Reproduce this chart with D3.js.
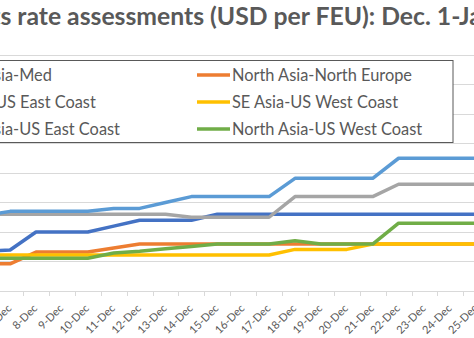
<!DOCTYPE html>
<html><head><meta charset="utf-8">
<script src="https://cdn.jsdelivr.net/npm/d3@7"></script>
<style>html,body{margin:0;padding:0;background:#fff;overflow:hidden}</style>
</head><body>
<svg id="c" width="474" height="338" xmlns="http://www.w3.org/2000/svg"></svg>
<script>
// ---- data ----
const dates = ["6-Dec","7-Dec","8-Dec","9-Dec","10-Dec","11-Dec","12-Dec","13-Dec","14-Dec","15-Dec",
               "16-Dec","17-Dec","18-Dec","19-Dec","20-Dec","21-Dec","22-Dec","23-Dec","24-Dec","25-Dec"];
const yTicks = [0,1000,2000,3000,4000,5000,6000,7000,8000];
const titleText = "Platts rate assessments (USD per FEU): Dec. 1-Jan. 5";
const titleVisibleFrom = "s rate assessments";

const seriesNames = ["North Asia-Med","North Asia-North Europe","SE Asia-US East Coast",
                     "SE Asia-US West Coast","North Asia-US East Coast","North Asia-US West Coast"];
const northAsiaMed         = [1340,1390,2000,2000,2000,2200,2400,2400,2400,2600,2600,2600,2600,2600,2600,2600,2600,2600,2600,2600];
const northAsiaNorthEurope = [920,920,1320,1320,1320,1460,1590,1590,1590,1590,1590,1590,1590,1590,1590,1590,1590,1590,1590,1590];
const seAsiaUSEastCoast    = [2600,2600,2600,2600,2600,2600,2600,2600,2500,2500,2500,2500,3200,3200,3200,3200,3620,3620,3620,3620];
const seAsiaUSWestCoast    = [1220,1220,1220,1220,1220,1220,1220,1220,1220,1220,1220,1220,1410,1410,1410,1590,1590,1590,1590,1590];
const northAsiaUSEastCoast = [2550,2700,2700,2700,2700,2800,2800,3000,3200,3200,3200,3200,3820,3820,3820,3820,4500,4500,4500,4500];
const northAsiaUSWestCoast = [1110,1110,1110,1110,1110,1290,1350,1430,1510,1590,1590,1590,1700,1590,1590,1590,2300,2300,2300,2300];
const seriesColors = ["#4472C4","#ED7D31","#A5A5A5","#FFC000","#5B9BD5","#70AD47"];

const series = seriesNames.map((name,i)=>({
  name, color: seriesColors[i],
  values: [northAsiaMed,northAsiaNorthEurope,seAsiaUSEastCoast,seAsiaUSWestCoast,northAsiaUSEastCoast,northAsiaUSWestCoast][i]
}));

// ---- layout ----
const svg = d3.select("#c");
const FONT = "Lato, 'Liberation Sans', Arial, sans-serif";
const textCol = "#595959";
const plotTop = 55, plotBottom = 291;
const x = d3.scaleBand(dates, [-28.75, 489.25]).paddingInner(0).paddingOuter(0);
const bw = x.bandwidth();
const y = d3.scaleLinear([0, 8000], [plotBottom, plotTop]);

// gridlines
svg.append("g").selectAll("line").data(yTicks.filter(t=>t>0)).join("line")
  .attr("x1",0).attr("x2",474).attr("y1",d=>y(d)).attr("y2",d=>y(d))
  .attr("stroke","#D9D9D9").attr("stroke-width",1).attr("shape-rendering","crispEdges");

// axis line + ticks between categories
svg.append("line").attr("x1",0).attr("x2",474).attr("y1",y(0)).attr("y2",y(0))
  .attr("stroke","#D9D9D9").attr("stroke-width",1).attr("shape-rendering","crispEdges");
svg.append("g").selectAll("line").data(dates).join("line")
  .attr("x1",d=>Math.round(x(d))+0.5).attr("x2",d=>Math.round(x(d))+0.5)
  .attr("y1",y(0)).attr("y2",y(0)+5)
  .attr("stroke","#D9D9D9").attr("stroke-width",1);

// x labels
svg.append("g").selectAll("text").data(dates).join("text")
  .attr("transform",d=>`translate(${x(d)+bw/2+2},${y(0)+18}) rotate(-45)`)
  .attr("text-anchor","end")
  .attr("font-family",FONT).attr("font-size",11).attr("fill",textCol)
  .text(d=>d);

// lines
const line = d3.line().x((v,i)=>x(dates[i])+bw/2).y(v=>y(v));
svg.append("g").selectAll("path").data(series).join("path")
  .attr("d",s=>line(s.values)).attr("fill","none")
  .attr("stroke",s=>s.color).attr("stroke-width",3.5)
  .attr("stroke-linejoin","round").attr("stroke-linecap","round");

// legend
const lg = svg.append("g");
lg.append("rect").attr("x",-400).attr("y",60.5).attr("width",853).attr("height",82)
  .attr("fill","#fff").attr("stroke","#595959").attr("stroke-width",1);
const rowY = [75, 102, 129];
const rightTextX = 232;
const probe = lg.append("text").attr("font-family",FONT).attr("font-size",15).text(seriesNames[1]);
const fs = 15 * 180 / probe.node().getComputedTextLength();
probe.remove();
const probe2 = lg.append("text").attr("font-family",FONT).attr("font-size",fs).text("North As");
const leftTextX = 1 - probe2.node().getComputedTextLength();
probe2.remove();
const colX = [leftTextX, rightTextX];
series.forEach((s,i)=>{
  const col = i%2, row = Math.floor(i/2);
  const tx = colX[col];
  lg.append("line").attr("x1",tx-35).attr("x2",tx-2).attr("y1",rowY[row]).attr("y2",rowY[row])
    .attr("stroke",s.color).attr("stroke-width",3.5);
  lg.append("text").attr("x",tx).attr("y",rowY[row]+fs*0.36)
    .attr("font-family",FONT).attr("font-size",fs).attr("fill",textCol).text(s.name);
});

// title
const title = svg.append("text").attr("font-family",FONT).attr("font-weight","bold")
  .attr("font-size",24).attr("fill",textCol).attr("y",25).text(titleText);
const idx = titleText.indexOf(titleVisibleFrom);
const endIdx = titleText.indexOf("J");
const n = title.node();
const w = n.getSubStringLength(idx, endIdx+1-idx);
const tfs = 24 * 469 / w;
title.attr("font-size",tfs);
const pre = n.getSubStringLength(0, idx);
title.attr("x", 0.5 - pre);
</script>
</body></html>
